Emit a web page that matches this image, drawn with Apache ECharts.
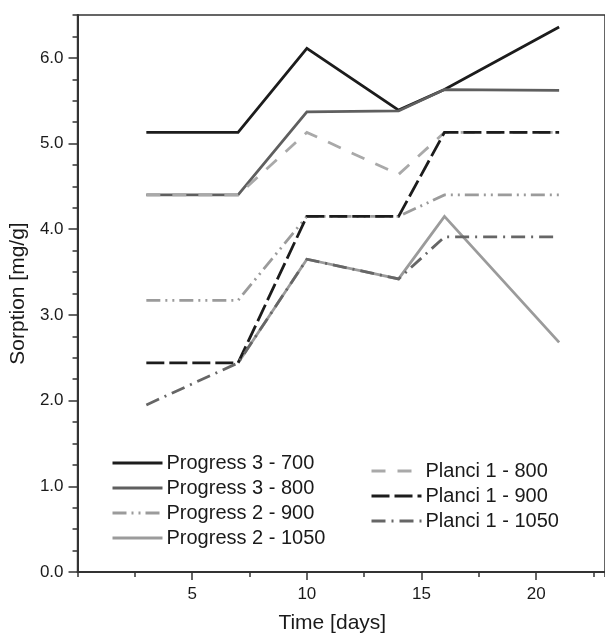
<!DOCTYPE html>
<html>
<head>
<meta charset="utf-8">
<script src="https://cdn.jsdelivr.net/npm/echarts@6/dist/echarts.min.js"></script>
<style>
  html, body { margin: 0; padding: 0; background: #fff; }
  #chart { width: 605px; height: 639px; }
</style>
</head>
<body>
<div id="chart"></div>
<script>
// sampling days
var days = [3, 7, 10, 14, 16, 21];

// sorption values [mg/g]
var prog3_700 = [5.13, 5.13, 6.11, 5.39, 5.63, 6.36];
var prog3_800 = [4.40, 4.40, 5.37, 5.38, 5.63, 5.62];
var prog2_900 = [3.17, 3.17, 4.15, 4.15, 4.40, 4.40];
var prog2_1050 = [null, 2.44, 3.65, 3.42, 4.15, 2.68];
var planci1_800 = [4.40, 4.40, 5.13, 4.64, 5.13, 5.13];
var planci1_900 = [2.44, 2.44, 4.15, 4.15, 5.13, 5.13];
var planci1_1050 = [1.95, 2.44, 3.65, 3.42, 3.91, 3.91];

var FONT = "'Liberation Sans', Arial, sans-serif";

function pairs(vals) {
    return days.map(function (d, i) { return [d, vals[i]]; });
}

function mkLine(name, vals, color, dash, width) {
    return {
        name: name,
        type: 'line',
        data: pairs(vals),
        symbol: 'none',
        showSymbol: false,
        connectNulls: false,
        silent: true,
        animation: false,
        lineStyle: { color: color, width: width || 2.8, type: dash || 'solid', cap: 'butt', join: 'miter' },
        itemStyle: { color: color }
    };
}

var myChart = echarts.init(document.querySelector('#chart'));
var axisCol = '#333';
var textCol = '#1a1a1a';

var legendBase = {
    orient: 'vertical',
    itemWidth: 50, itemHeight: 14, itemGap: 5,
    itemStyle: { opacity: 0 },
    lineStyle: { width: 3 },
    textStyle: { fontFamily: FONT, fontSize: 20, color: textCol, padding: [0, 0, 0, -1] }
};

var option = {
    backgroundColor: '#fff',
    animation: false,
    grid: {
        left: 76, top: 15, width: 532, height: 560,
        show: true, borderColor: axisCol, borderWidth: 1.5, backgroundColor: 'transparent'
    },
    legend: [
        Object.assign({}, legendBase, {
            data: ['Progress 3 - 700', 'Progress 3 - 800', 'Progress 2 - 900', 'Progress 2 - 1050'],
            left: 106, top: 448
        }),
        Object.assign({}, legendBase, {
            data: ['Planci 1 - 800', 'Planci 1 - 900', 'Planci 1 - 1050'],
            left: 365, top: 456
        })
    ],
    xAxis: [
        {
            type: 'value', min: 0, max: 23, interval: 5,
            name: 'Time [days]', nameLocation: 'middle', nameGap: 41,
            nameTextStyle: { fontFamily: FONT, fontSize: 21, color: textCol, padding: [0, 18, 0, 0] },
            axisLine: { show: true, onZero: false, lineStyle: { color: axisCol, width: 2 } },
            axisTick: { show: true, inside: false, length: 8, lineStyle: { color: axisCol, width: 1.5 } },
            axisLabel: { fontFamily: FONT, fontSize: 17, color: textCol, margin: 14, showMinLabel: false, showMaxLabel: false },
            splitLine: { show: false }
        },
        {
            type: 'value', min: 0, max: 23, interval: 2.5, position: 'bottom',
            axisLine: { show: false },
            axisTick: { show: true, inside: false, length: 5, lineStyle: { color: axisCol, width: 1.5 } },
            axisLabel: { show: false },
            splitLine: { show: false }
        }
    ],
    yAxis: [
        {
            type: 'value', min: 0, max: 6.5, interval: 1,
            name: 'Sorption [mg/g]', nameLocation: 'middle', nameGap: 44, nameRotate: 90,
            nameTextStyle: { fontFamily: FONT, fontSize: 21, color: textCol },
            axisLine: { show: true, onZero: false, lineStyle: { color: axisCol, width: 2 } },
            axisTick: { show: true, inside: false, length: 9, lineStyle: { color: axisCol, width: 1.5 } },
            axisLabel: {
                fontFamily: FONT, fontSize: 17, color: textCol, margin: 14, showMaxLabel: false,
                formatter: function (v) { return v.toFixed(1); }
            },
            splitLine: { show: false }
        },
        {
            type: 'value', min: 0, max: 6.5, interval: 0.25, position: 'left',
            axisLine: { show: false },
            axisTick: { show: true, inside: false, length: 5, lineStyle: { color: axisCol, width: 1.5 } },
            axisLabel: { show: false },
            splitLine: { show: false }
        }
    ],
    series: [
        mkLine('Progress 3 - 700', prog3_700, '#1c1c1c'),
        mkLine('Progress 3 - 800', prog3_800, '#5f5f5f'),
        mkLine('Progress 2 - 900', prog2_900, '#9b9b9b', [14, 5, 2, 5, 2, 5]),
        mkLine('Progress 2 - 1050', prog2_1050, '#9b9b9b'),
        mkLine('Planci 1 - 800', planci1_800, '#a9a9a9', [14, 12]),
        mkLine('Planci 1 - 900', planci1_900, '#1c1c1c', [18, 5]),
        mkLine('Planci 1 - 1050', planci1_1050, '#666666', [14, 6, 2, 6])
    ]
};

myChart.setOption(option, true);
</script>
</body>
</html>
